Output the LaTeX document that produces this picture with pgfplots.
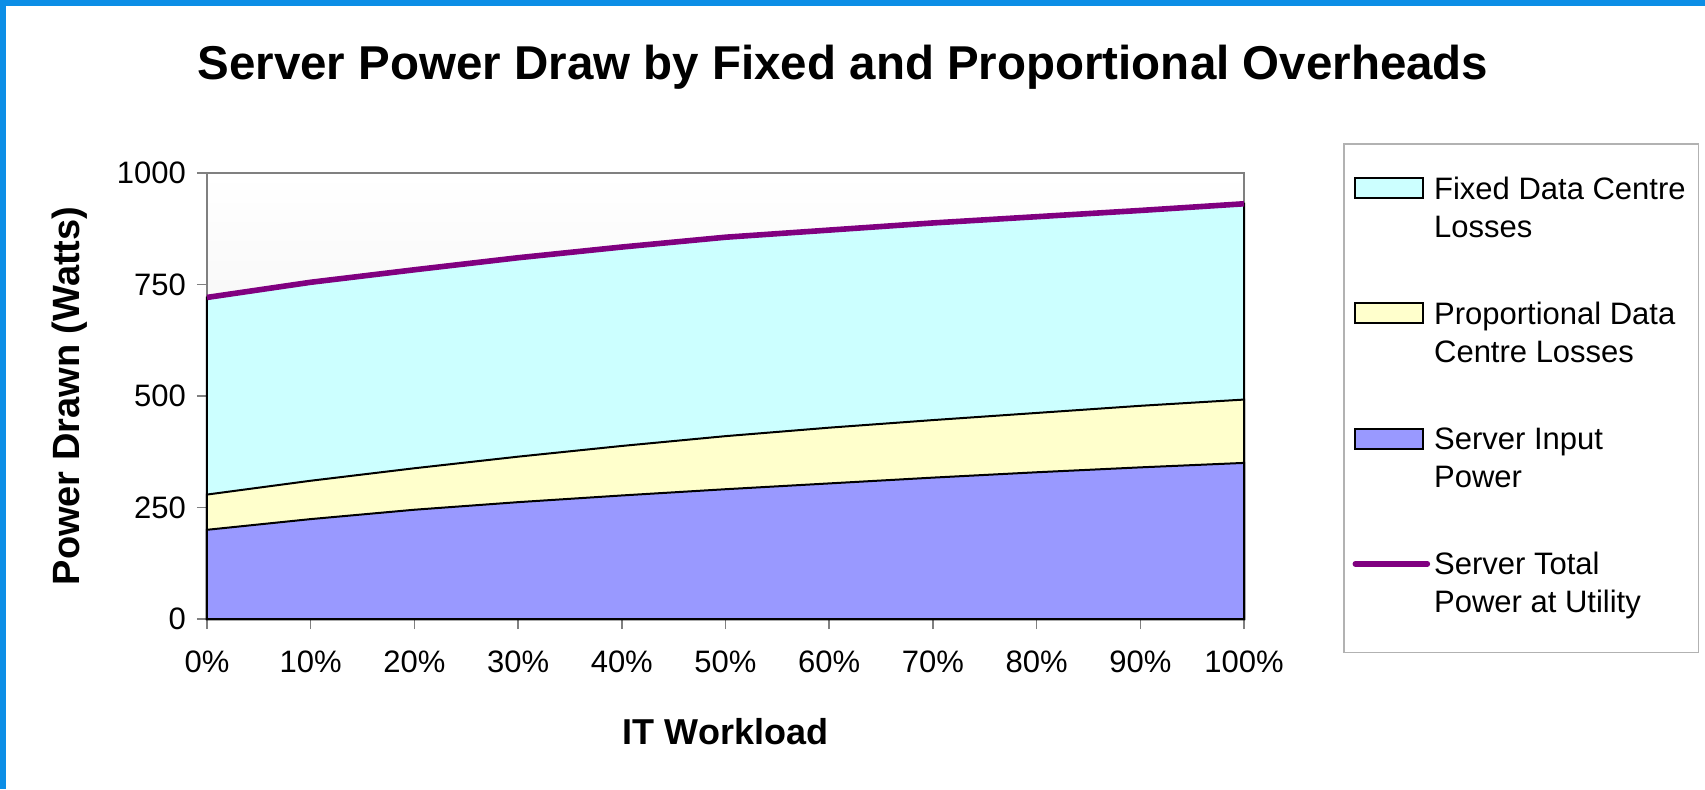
\documentclass[border=0pt]{standalone}
\usepackage{pgfplots}
\pgfplotsset{compat=1.18}
\usepackage{pgfplotstable}
\usepackage{fontspec}
\setmainfont{Liberation Sans}
\definecolor{fixedc}{HTML}{CCFFFF}
\definecolor{propc}{HTML}{FFFFCC}
\definecolor{servc}{HTML}{9999FF}
\definecolor{totc}{HTML}{800080}
\definecolor{frameblue}{HTML}{0C8EE6}
\definecolor{axgray}{HTML}{808080}
\pgfplotsset{
  arealeg/.style={legend image code/.code={\draw[##1] (0pt,0.5pt) rectangle (34pt,10.5pt);}},
  linelegend/.style={legend image code/.code={\draw[##1,line cap=round] (0pt,5.5pt) -- (36pt,5.5pt);}},
}
\pgfplotstableread{
x   server prop total
0   200 279 721
10  224 310 755
20  245 338 783
30  262 364 810
40  277 388 834
50  291 410 856
60  304 429 872
70  317 446 888
80  329 462 902
90  340 478 916
100 350 492 931
}\datatable
\begin{document}
\begin{tikzpicture}
\useasboundingbox (0pt,0pt) rectangle (852.5pt,394.5pt);
\fill[white] (0pt,0pt) rectangle (852.5pt,394.5pt);
\fill[frameblue] (0pt,0pt) rectangle (3pt,394.5pt);
\fill[frameblue] (0pt,391.5pt) rectangle (852.5pt,394.5pt);
\node[anchor=base, font=\bfseries\fontsize{23.75}{28}\selectfont] at (421.5pt,354.5pt) {Server Power Draw by Fixed and Proportional Overheads};
\begin{axis}[
  scale only axis, width=518.5pt, height=223pt,
  at={(103.5pt,85pt)}, anchor=south west,
  xmin=0, xmax=100, ymin=0, ymax=1000,
  xtick={0,10,...,100}, ytick={0,250,500,750,1000},
  xtick pos=lower, ytick pos=left, tick align=outside, major tick length=5pt,
  axis line style={axgray, line width=0.8pt},
  major tick style={axgray, line width=0.8pt},
  tick label style={font=\fontsize{15.5}{18}\selectfont},
  /pgf/number format/assume math mode=true,
  /pgf/number format/1000 sep={},
  xticklabel={\pgfmathprintnumber{\tick}\%},
  xticklabel style={yshift=-7.5pt},
  yticklabel style={xshift=-2pt},
  xlabel={IT Workload}, ylabel={Power Drawn (Watts)},
  every axis x label/.style={at={(axis description cs:0.5,-0.2825)}, anchor=base, font=\bfseries\fontsize{18}{21}\selectfont},
  every axis y label/.style={at={(axis description cs:-0.1234,0.5)}, rotate=90, anchor=base, font=\bfseries\fontsize{19}{22}\selectfont},
  axis background/.style={top color=white, bottom color=black!9},
  clip=false,
  legend cell align=left,
  legend style={at={(1.0955,1.0673)}, anchor=north west, draw=black!30, line width=0.8pt,
    inner xsep=4.35pt, inner ysep=7.5pt, row sep=20.6pt,
    font=\fontsize{15.5}{19}\selectfont, cells={anchor=base west},
    nodes={text height=18.2pt, text depth=24.7pt}},
]
\addplot[draw=black, line width=1pt, fill=fixedc, arealeg] table[x=x,y=total]{\datatable} \closedcycle;
\addlegendentry{\begin{tabular}[t]{@{}l@{}}Fixed Data Centre\\Losses\end{tabular}}
\addplot[draw=black, line width=1pt, fill=propc, arealeg] table[x=x,y=prop]{\datatable} \closedcycle;
\addlegendentry[text height=13.3pt]{\begin{tabular}[t]{@{}l@{}}Proportional Data\\Centre Losses\end{tabular}}
\addplot[draw=black, line width=1pt, fill=servc, arealeg] table[x=x,y=server]{\datatable} \closedcycle;
\addlegendentry[text height=13.3pt]{\begin{tabular}[t]{@{}l@{}}Server Input\\Power\end{tabular}}
\addplot[totc, line width=2.8pt, linelegend] table[x=x,y=total]{\datatable};
\addlegendentry[text height=13.3pt, text depth=29.3pt]{\begin{tabular}[t]{@{}l@{}}Server Total\\Power at Utility\end{tabular}}
\end{axis}
\end{tikzpicture}
\end{document}
